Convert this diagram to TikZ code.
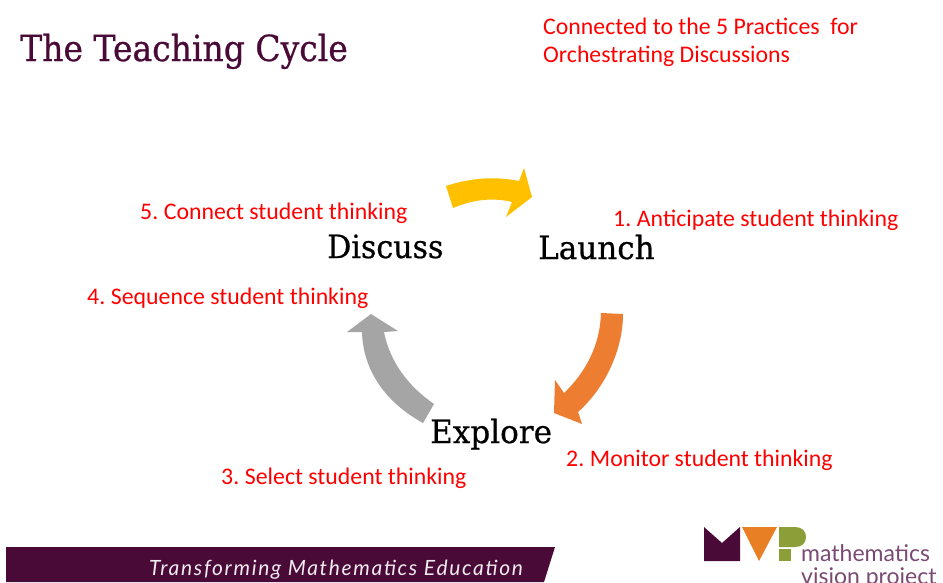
\documentclass[tikz,border=0pt]{standalone}
\usepackage{fontspec}
\setmainfont{Carlito}
\newfontfamily\titlefont{DejaVu Serif}[FakeStretch=0.917,FakeBold=0.7]
\newfontfamily\cyclefont{DejaVu Serif}[FakeStretch=0.97,FakeBold=0.6]
\newfontfamily\discussfont{DejaVu Serif}[FakeStretch=0.94,FakeBold=0.6]
\newfontfamily\logofont{Lato}
\newfontfamily\barfont{Lato}[LetterSpace=8]
\definecolor{plum}{HTML}{4A0A38}
\definecolor{mvporange}{HTML}{ED7D31}
\definecolor{mvpyellow}{HTML}{FFC000}
\definecolor{mvpgray}{HTML}{A5A5A5}
\definecolor{mvplogoorange}{HTML}{E97F24}
\definecolor{mvpgreen}{HTML}{8B9E37}
\definecolor{logotext}{HTML}{7B4A72}
\tikzset{
 redlabel/.style={text=red,font=\fontsize{23.8}{28}\selectfont,anchor=base west,inner sep=0pt},
 cyclelabel/.style={text=black,font=\cyclefont\fontsize{32}{36}\selectfont,anchor=base west,inner sep=0pt},
 logolabel/.style={anchor=base west,inner sep=0pt,text=logotext,font=\logofont\fontsize{23}{26}\selectfont},
}
\begin{document}
\begin{tikzpicture}[x=1pt,y=-1pt]
\useasboundingbox (0,0) rectangle (943,582);
\fill[white] (0,0) rectangle (943,582);
\node[anchor=base west,inner sep=0pt,text=plum,font=\titlefont\fontsize{36}{40}\selectfont] (title) at (20,61) {The Teaching Cycle};
\node[redlabel] (head1) at (543,34) {Connected to the 5 Practices\ \ for};
\node[redlabel] (head2) at (543,62) {Orchestrating Discussions};
\fill[mvpyellow] (446,186) .. controls (470,178) and (495,176) .. (519,181) -- (524,168) -- (532,197) -- (506,217) -- (512,202) .. controls (492,197) and (472,200) .. (453,208) -- cycle;
\fill[mvporange] (601,313) -- (623,314) .. controls (623,350) and (605,388) .. (578,412) -- (582,424) -- (554,413) -- (555,380) -- (564,393) .. controls (586,372) and (600,345) .. (601,313) -- cycle;
\fill[mvpgray] (423,423) .. controls (385,402) and (363,370) .. (362,332) -- (347,332) -- (371,314) -- (398,331) -- (384,332) .. controls (390,362) and (408,386) .. (434,404) -- cycle;
\node[cyclelabel,font=\discussfont\fontsize{32}{36}\selectfont] (discuss) at (327,258) {Discuss};
\node[cyclelabel] (launch) at (538,259) {Launch};
\node[cyclelabel] (explore) at (430,443) {Explore};
\node[redlabel] (p5) at (140,219) {5.\kern-1.5pt{} Connect student thinking};
\node[redlabel] (p1) at (613,226) {1.\kern-1.5pt{} Anticipate student thinking};
\node[redlabel] (p4) at (87,304) {4.\kern-1.5pt{} Sequence student thinking};
\node[redlabel] (p2) at (566,466) {2.\kern-1.5pt{} Monitor student thinking};
\node[redlabel] (p3) at (221,484) {3.\kern-1.5pt{} Select student thinking};
\fill[plum] (6,547) -- (555,547) -- (544,582) -- (6,582) -- cycle;
\node[anchor=base west,inner sep=0pt,text=white!92!plum,font=\barfont\itshape\fontsize{21}{24}\selectfont] (bar) at (149,575) {Transforming Mathematics Education};
\fill[plum] (704,527) -- (722,543) -- (740,527) -- (740,561) -- (704,561) -- cycle;
\fill[mvplogoorange] (742,527) -- (777,527) -- (759,561) -- cycle;
\fill[mvpgreen] (779,527) -- (795,527) .. controls (802,527) and (806,531) .. (806,537) .. controls (806,543) and (802,547) .. (795,547) -- (779,547) -- cycle;
\fill[mvpgreen] (779,549) rectangle (791,561);
\node[logolabel] (logo1) at (801,561) {mathematics};
\node[logolabel] (logo2) at (801,584) {vision project};
\end{tikzpicture}
\end{document}
